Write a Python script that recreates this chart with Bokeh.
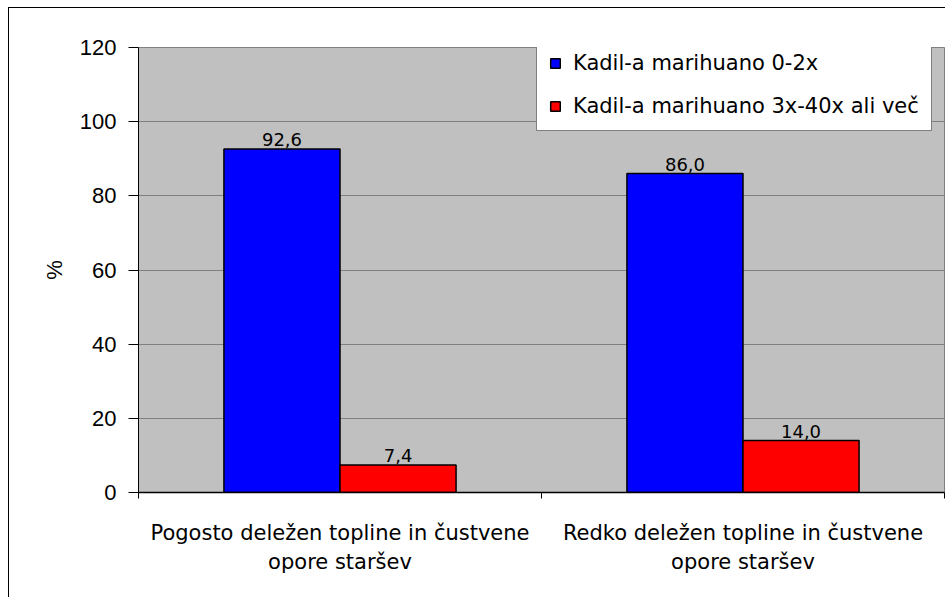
from bokeh.plotting import figure
from bokeh.models import ColumnDataSource, FixedTicker, Legend, LegendItem, Range1d
from bokeh.transform import dodge
from bokeh.core.properties import value
from bokeh.embed import file_html
from bokeh.resources import INLINE

categories = ["Pogosto deležen topline in čustvene\nopore staršev",
              "Redko deležen topline in čustvene\nopore staršev"]
series_names = ["Kadil-a marihuano 0-2x", "Kadil-a marihuano 3x-40x ali več"]
low_use = [92.6, 86.0]
high_use = [7.4, 14.0]
y_ticks = [0, 20, 40, 60, 80, 100, 120]

centers = [i + 0.5 for i in range(len(categories))]
bounds = [i for i in range(len(categories) + 1)]

def fmt(v):
    return f"{v:.1f}".replace(".", ",")

src = ColumnDataSource(dict(
    x=centers, low=low_use, high=high_use,
    low_lbl=[fmt(v) for v in low_use], high_lbl=[fmt(v) for v in high_use],
))

p = figure(width=937, height=590, output_backend="svg", toolbar_location=None,
           x_range=Range1d(0, len(categories)), y_range=Range1d(0, 120),
           min_border_left=129, min_border_top=39, min_border_bottom=106,
           min_border_right=2)
p.styles = {"margin-left": "8px", "margin-top": "7px",
            "border-left": "1px solid black", "border-top": "1px solid black"}
p.background_fill_color = "#C0C0C0"
p.border_fill_color = "white"
p.outline_line_color = "#808080"
p.outline_line_width = 1

bw = 0.288
r1 = p.vbar(x=dodge("x", -bw / 2, range=p.x_range), top="low", width=bw, source=src,
            fill_color="#0000FF", line_color="black", line_width=1.5)
r2 = p.vbar(x=dodge("x", bw / 2, range=p.x_range), top="high", width=bw, source=src,
            fill_color="#FF0000", line_color="black", line_width=1.5)

for col, off in (("low", -bw / 2), ("high", bw / 2)):
    p.text(x=dodge("x", off, range=p.x_range), y=col, text=col + "_lbl", source=src,
           text_font=value("DejaVu Sans"), text_font_size="18px", text_color="black",
           text_align="center", text_baseline="bottom", y_offset=-3)

# x axis
p.xaxis.ticker = FixedTicker(ticks=centers, minor_ticks=bounds)
p.xaxis.major_label_overrides = {c: lbl for c, lbl in zip(centers, categories)}
p.xaxis.major_tick_out = 0
p.xaxis.major_tick_in = 0
p.xaxis.minor_tick_out = 6
p.xaxis.minor_tick_in = 0
p.xaxis.minor_tick_line_color = "black"
p.xaxis.axis_line_color = "black"
p.xaxis.axis_line_width = 1.5
p.xaxis.major_label_text_font = "DejaVu Sans"
p.xaxis.major_label_text_font_size = "21px"
p.xaxis.major_label_text_color = "black"
p.xaxis.major_label_text_line_height = 1.23
p.xaxis.major_label_standoff = 22
p.xgrid.visible = False

# y axis
p.yaxis.ticker = FixedTicker(ticks=y_ticks)
p.yaxis.axis_label = "%"
p.yaxis.axis_label_text_font = "Liberation Sans"
p.yaxis.axis_label_text_font_size = "22px"
p.yaxis.axis_label_text_font_style = "normal"
p.yaxis.axis_label_text_color = "black"
p.yaxis.axis_label_standoff = 10
p.yaxis.major_label_text_font = "Liberation Sans"
p.yaxis.major_label_text_font_size = "22px"
p.yaxis.major_label_text_color = "black"
p.yaxis.major_label_standoff = 12
p.yaxis.major_tick_out = 10
p.yaxis.major_tick_in = 0
p.yaxis.minor_tick_out = 0
p.yaxis.minor_tick_in = 0
p.yaxis.axis_line_color = "black"
p.yaxis.major_tick_line_color = "black"
p.ygrid.grid_line_color = "#808080"
p.ygrid.grid_line_width = 1

legend = Legend(items=[LegendItem(label=series_names[0], renderers=[r1]),
                       LegendItem(label=series_names[1], renderers=[r2])],
                location=(398, 361), orientation="vertical",
                label_text_font="DejaVu Sans", label_text_font_size="21px",
                label_text_color="black", label_height=22, label_standoff=12,
                glyph_width=12, glyph_height=12, spacing=19, padding=12, margin=0,
                border_line_color="black", border_line_width=1,
                background_fill_color="white", background_fill_alpha=1.0)
p.add_layout(legend, "center")

open("out.html", "w").write(file_html(p, INLINE))
